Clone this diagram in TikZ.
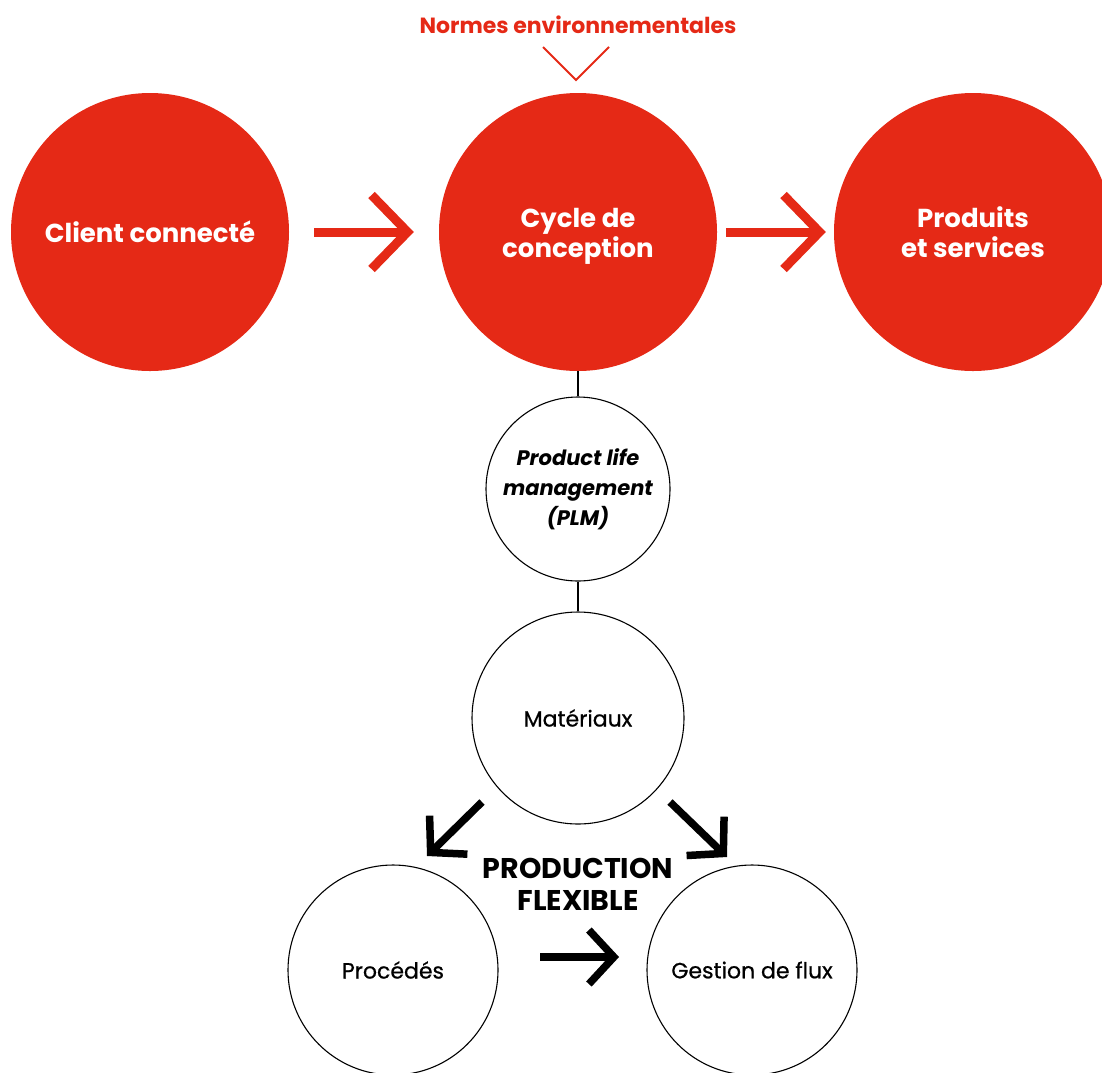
\documentclass[tikz,border=0pt]{standalone}
\usepackage{fontspec}
\setmainfont{Poppins}
\newfontfamily\medfont{Poppins}[FakeBold=0.7]
\usetikzlibrary{arrows.meta,calc}
\definecolor{cred}{RGB}{229,41,22}
\newcommand{\twolines}[2]{\raisebox{0pt}[\dimexpr\height+8pt\relax][\depth]{\begin{tabular}{@{}c@{}}#1\\#2\end{tabular}}}
\tikzset{
  redc/.style={circle,fill=cred,draw=none,inner sep=0pt,minimum size=#1,text=white,align=center,
    font=\fontsize{26}{30}\selectfont\bfseries},
  whitec/.style={circle,draw=black,line width=1.1pt,fill=white,inner sep=0pt,minimum size=#1,align=center,
    font=\medfont\fontsize{22}{26}\selectfont},
  redarr/.style={draw=cred,line width=9pt,-{Straight Barb[length=36pt,width=74pt,line join=miter]}},
  blkarr/.style={draw=black,line width=7.5pt,-{Straight Barb[length=25pt,width=54pt,line join=miter]}},
  thin/.style={draw=black,line width=1.1pt},
  vline/.style={draw=cred,line width=1.8pt},
}
\begin{document}
\begin{tikzpicture}[x=1pt,y=-1pt]
\useasboundingbox (0,0) rectangle (1102,1072);
\clip (0,0) rectangle (1102,1072);
% red circles
\node[redc=278pt] (client) at (150,232) {Client connecté};
\node[redc=278pt] (cycle) at (578,232) {\twolines{Cycle de}{conception}};
\node[redc=278pt] (prod) at (973,232) {\twolines{Produits}{et services}};
% top label
\node[text=cred,font=\fontsize{22}{24}\selectfont\bfseries] (norm) at (578,25) {Normes environnementales};
\coordinate (vl) at (543,47);
\coordinate (vt) at (576,80);
\coordinate (vr) at (609,47);
\draw[vline] (vl) -- (vt) -- (vr);
% red arrows
\draw[redarr] ([xshift=25pt]client.east) -- ([xshift=-25pt]cycle.west);
\draw[redarr] ([xshift=9pt]cycle.east) -- ([xshift=-8pt]prod.west);
% white circles
\node[whitec=184pt,font=\fontsize{21}{30}\selectfont\bfseries\itshape] (plm) at (578,489) {Product life\\management\\(PLM)};
\node[whitec=212pt] (mat) at (578,718) {Matériaux};
\node[whitec=210pt] (proc) at (393,970) {Procédés};
\node[whitec=210pt] (gest) at (752,970) {Gestion de flux};
\draw[thin] (cycle.south) -- (plm.north);
\draw[thin] (plm.south) -- (mat.north);
% production flexible
\node[font=\fontsize{28.5}{32}\selectfont\bfseries,align=center] (pf) at (578,884) {PRODUCTION\\FLEXIBLE};
% black arrows
\coordinate (l1) at (482,802);
\coordinate (l2) at (427,856);
\coordinate (r1) at (670,802);
\coordinate (r2) at (727,857);
\coordinate (b1) at (540,957);
\coordinate (b2) at (619,957);
\draw[blkarr] (l1) -- (l2);
\draw[blkarr] (r1) -- (r2);
\draw[blkarr] (b1) -- (b2);
\end{tikzpicture}
\end{document}
